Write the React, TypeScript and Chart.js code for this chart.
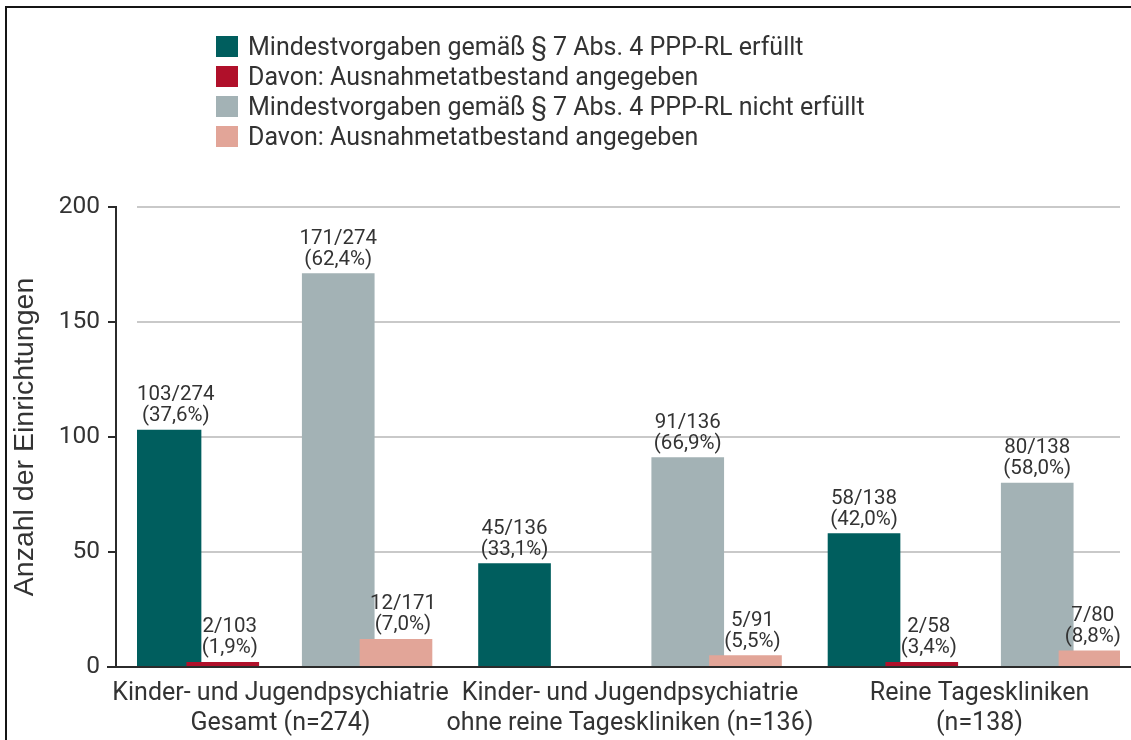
import React, { useEffect, useRef } from "react";
import { Chart, registerables } from "chart.js";

Chart.register(...registerables);

// ---------- data ----------
const categories: string[][] = [
  ["Kinder- und Jugendpsychiatrie", "Gesamt (n=274)"],
  ["Kinder- und Jugendpsychiatrie", "ohne reine Tageskliniken (n=136)"],
  ["Reine Tageskliniken", "(n=138)"],
];
const totals = [274, 136, 138];
const erfuellt = [103, 45, 58];
const erfuelltAusnahme = [2, 0, 2];
const nichtErfuellt = [171, 91, 80];
const nichtErfuelltAusnahme = [12, 5, 7];
const seriesLabels = [
  "Mindestvorgaben gemäß § 7 Abs. 4 PPP-RL erfüllt",
  "Davon: Ausnahmetatbestand angegeben",
  "Mindestvorgaben gemäß § 7 Abs. 4 PPP-RL nicht erfüllt",
  "Davon: Ausnahmetatbestand angegeben",
];
const yTicks = [0, 50, 100, 150, 200];
const yTitle = "Anzahl der Einrichtungen";

// ---------- styles ----------
const colors = ["#005E5E", "#B0102A", "#A3B2B5", "#E2A598"];
const slot = 0.1652;
const series = [
  { values: erfuellt, denom: totals, offset: -2 * slot, order: 2, dx: 0 },
  { values: erfuelltAusnahme, denom: erfuellt, offset: -slot, order: 1, dx: 7 },
  { values: nichtErfuellt, denom: totals, offset: slot, order: 2, dx: 0 },
  { values: nichtErfuelltAusnahme, denom: nichtErfuellt, offset: 2 * slot, order: 1, dx: 7 },
];
const FONT = "Roboto";
const TEXT = "#333333";

function pct(v: number, d: number): string {
  const r = Math.round((v * 1000) / d) / 10;
  return "(" + r.toFixed(1).replace(".", ",") + "%)";
}

const decorPlugin = {
  id: "decor",
  afterDatasetsDraw(chart: any) {
    const ctx = chart.ctx;
    const area = chart.chartArea;
    const y = chart.scales.y;
    // data labels
    ctx.save();
    ctx.font = `20.5px ${FONT}`;
    ctx.fillStyle = TEXT;
    ctx.textAlign = "center";
    ctx.textBaseline = "alphabetic";
    series.forEach((s, di) => {
      const meta = chart.getDatasetMeta(di);
      meta.data.forEach((el: any, i: number) => {
        const v = s.values[i];
        if (!v) return;
        const l1 = `${v}/${s.denom[i]}`;
        const l2 = pct(v, s.denom[i]);
        const w = Math.max(ctx.measureText(l1).width, ctx.measureText(l2).width);
        let cx = el.x + s.dx;
        cx = Math.max(area.left + w / 2, Math.min(area.right + 1 - w / 2, cx));
        ctx.fillText(l1, cx, el.y - 30);
        ctx.fillText(l2, cx, el.y - 9);
      });
    });
    ctx.restore();

    // axes
    ctx.save();
    ctx.strokeStyle = "#2b2b2b";
    ctx.lineWidth = 2;
    const ax = area.left - 21;
    const y0 = y.getPixelForValue(0);
    const yTop = y.getPixelForValue(yTicks[yTicks.length - 1]);
    ctx.beginPath();
    ctx.moveTo(ax, yTop - 1);
    ctx.lineTo(ax, y0);
    yTicks.forEach((t) => {
      const py = y.getPixelForValue(t);
      ctx.moveTo(ax - 8, py);
      ctx.lineTo(ax, py);
    });
    ctx.moveTo(ax - 9, y0);
    ctx.lineTo(chart.width, y0);
    ctx.stroke();
    ctx.restore();
  },
};

function ChartCanvas() {
  const ref = useRef<HTMLCanvasElement | null>(null);
  useEffect(() => {
    if (!ref.current) return;
    const chart = new Chart(ref.current, {
      type: "bar",
      data: {
        datasets: series.map((s, di) => ({
          label: seriesLabels[di],
          data: s.values.map((v, i) => ({ x: i + s.offset, y: v })),
          backgroundColor: colors[di],
          borderWidth: 0,
          order: s.order,
          grouped: false,
          barThickness: 72,
        })),
      } as any,
      options: {
        animation: false,
        responsive: false,
        maintainAspectRatio: false,
        layout: { padding: { left: 0, top: 207, right: 11, bottom: 0 } },
        plugins: { legend: { display: false }, tooltip: { enabled: false } },
        scales: {
          x: {
            type: "linear",
            min: -0.4106,
            max: 2.402,
            offset: false,
            grid: { display: false },
            border: { display: false },
            afterBuildTicks: (s: any) => {
              s.ticks = categories.map((_, i) => ({ value: i }));
            },
            afterFit: (s: any) => {
              s.height = 73;
            },
            ticks: {
              callback: (v: any) => categories[v as number],
              font: { family: FONT, size: 25, lineHeight: 1.2 },
              color: TEXT,
              padding: 4,
              autoSkip: false,
              maxRotation: 0,
              minRotation: 0,
            },
          },
          y: {
            min: 0,
            max: 200,
            afterFit: (s: any) => {
              s.width = 137;
            },
            ticks: {
              stepSize: 50,
              font: { family: FONT, size: 24.5 },
              color: TEXT,
              padding: 37,
            },
            grid: { color: "#c9c9c9", lineWidth: 2, drawTicks: false },
            border: { display: false },
            title: {
              display: true,
              text: yTitle,
              font: { family: "Liberation Sans", size: 28.5 },
              color: TEXT,
              padding: { top: 8, bottom: 0 },
            },
          },
        },
      } as any,
      plugins: [decorPlugin],
    });
    return () => chart.destroy();
  }, []);
  return (
    <canvas
      ref={ref}
      width={1131}
      height={740}
      style={{ position: "absolute", left: 0, top: 0, width: 1131, height: 740 }}
    />
  );
}

export default function App() {
  return (
    <div
      style={{
        position: "absolute",
        left: 0,
        top: 0,
        width: 1131,
        height: 740,
        overflow: "hidden",
        background: "#fff",
        fontFamily: FONT,
      }}
    >
      <div
        style={{
          position: "absolute",
          left: 5,
          top: 6,
          width: 1300,
          height: 900,
          borderLeft: "2px solid #151515",
          borderTop: "2px solid #151515",
        }}
      />
      <ChartCanvas />
      <div style={{ position: "absolute", left: 216, top: 31.5 }}>
        {seriesLabels.map((l, i) => (
          <div
            key={i}
            style={{ display: "flex", alignItems: "center", height: 30 }}
          >
            <div
              style={{
                width: 22,
                height: 21,
                background: colors[i],
                marginRight: 10,
                flex: "none",
              }}
            />
            <span
              style={{
                fontSize: 25,
                lineHeight: "30px",
                color: TEXT,
                whiteSpace: "nowrap",
              }}
            >
              {l}
            </span>
          </div>
        ))}
      </div>
    </div>
  );
}
